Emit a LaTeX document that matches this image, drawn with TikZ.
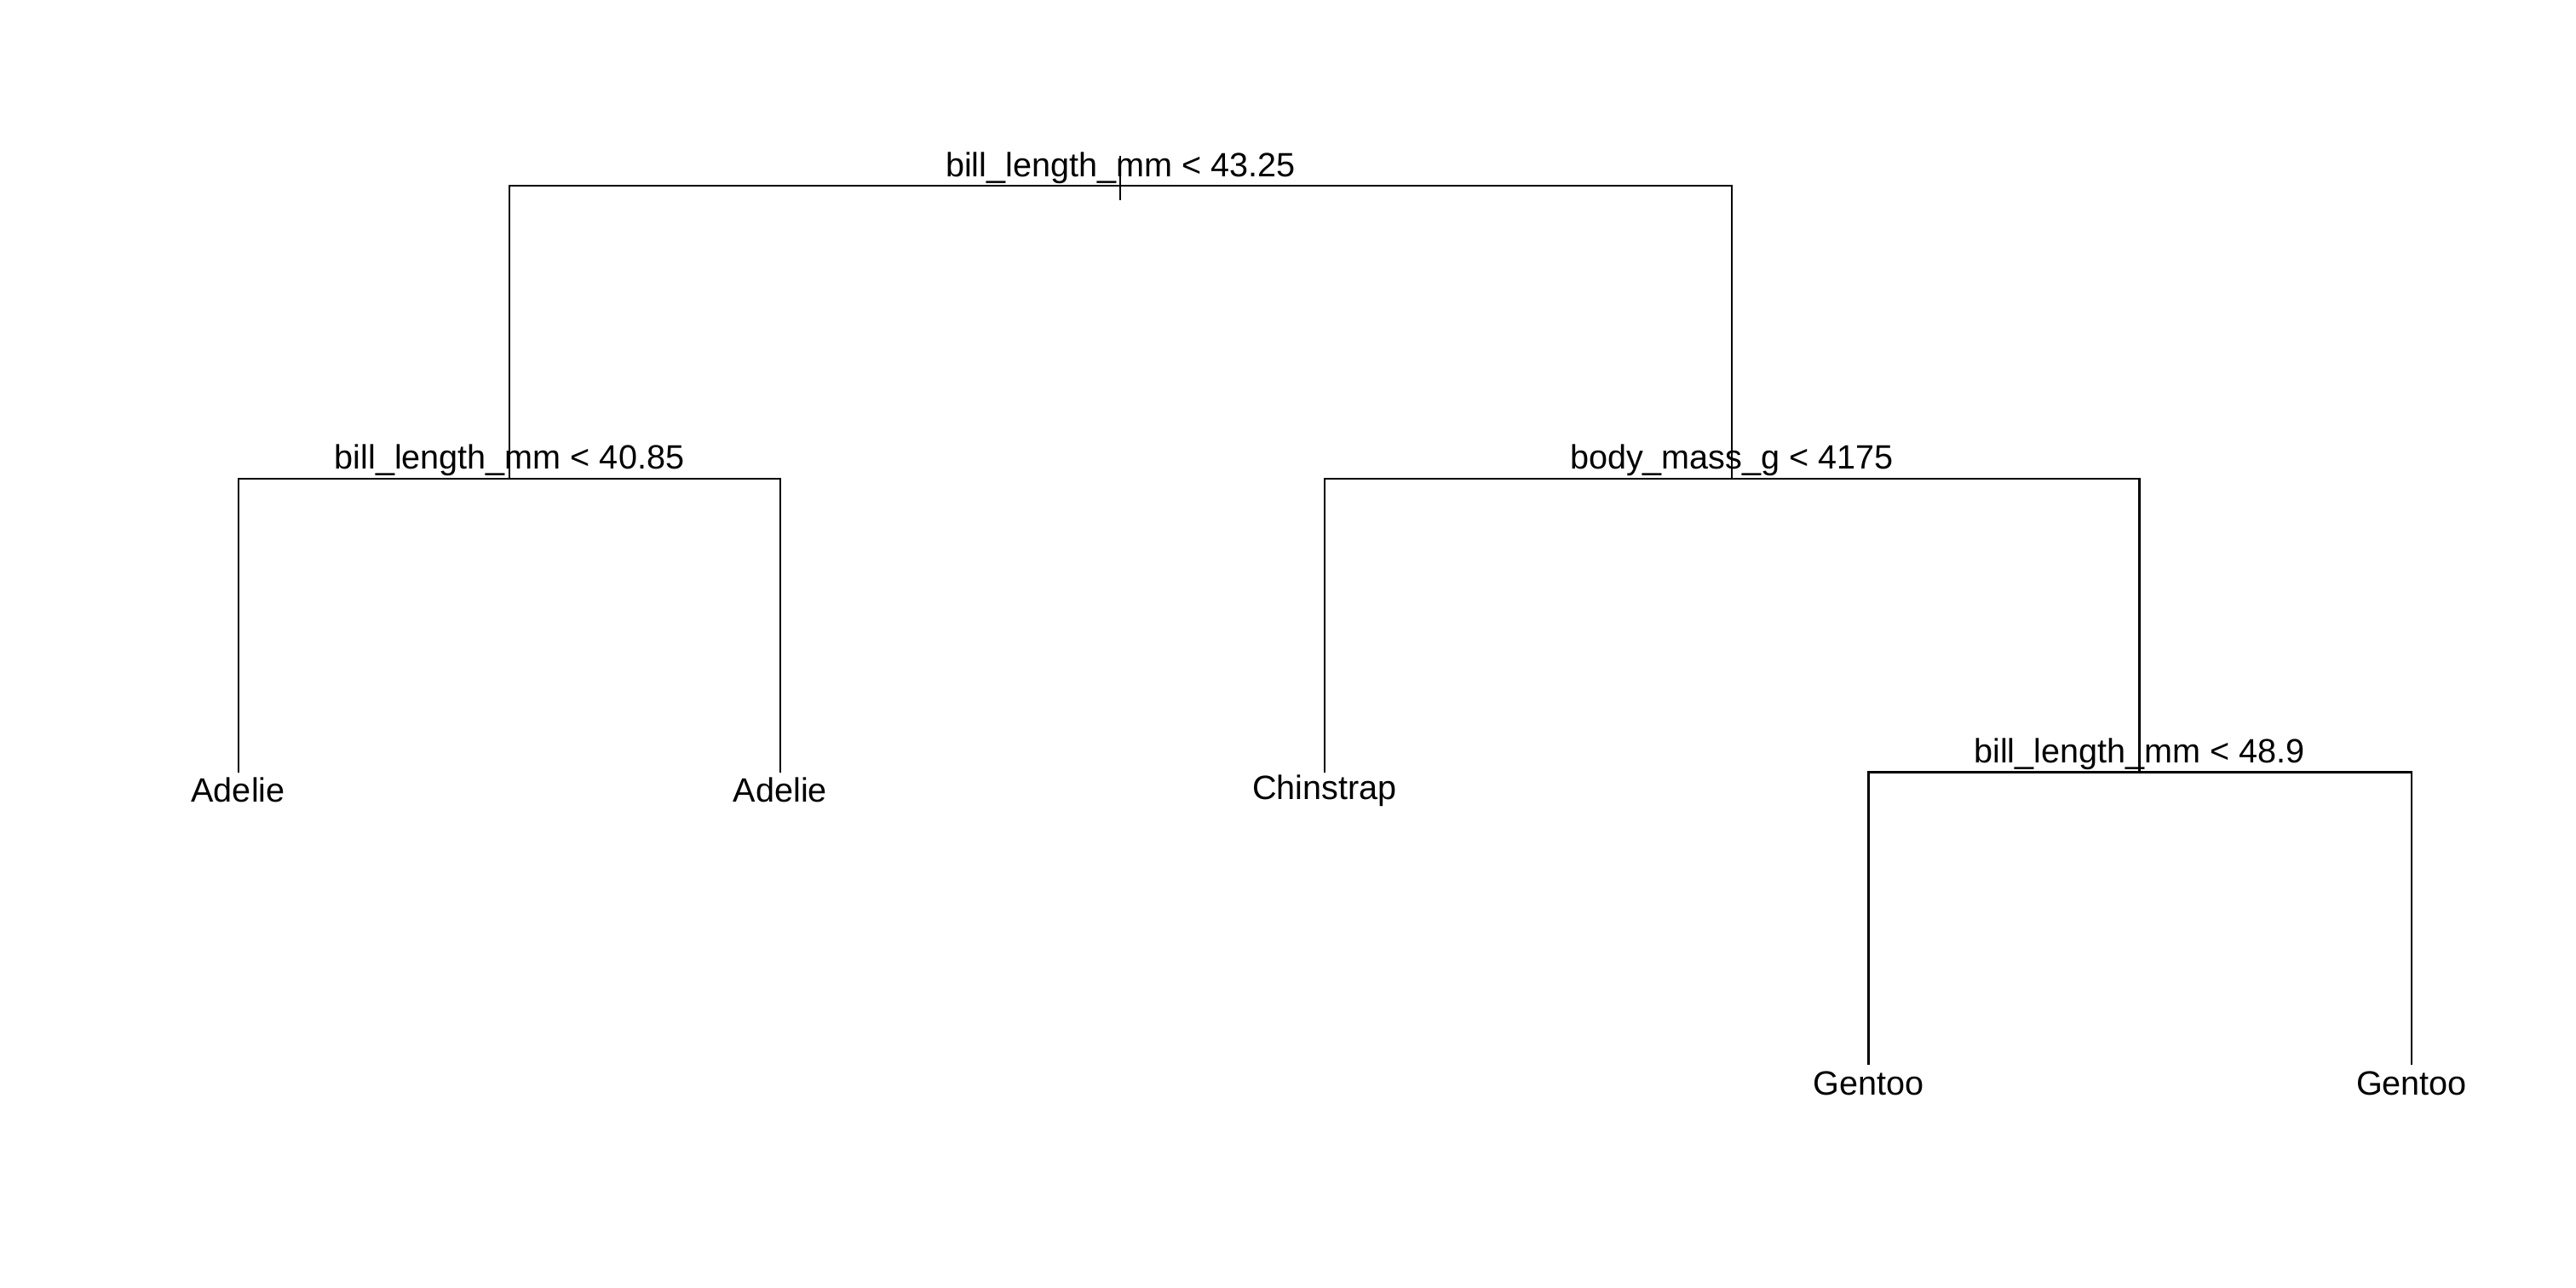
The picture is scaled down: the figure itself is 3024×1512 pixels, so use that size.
\documentclass[tikz,border=0pt]{standalone}
\usepackage{fontspec}
\setmainfont{Liberation Sans}
\begin{document}
\begin{tikzpicture}[x=0.25pt,y=-0.25pt,
  edge/.style={line width=0.55pt, black},
  lbl/.style={anchor=base, inner sep=0pt, font=\fontsize{9.9pt}{11pt}\selectfont}]
\useasboundingbox (0,0) rectangle (3024,1512);
% tree nodes
\coordinate (n1) at (1315.3,218.3);
\coordinate (n2) at (597.9,561.7);
\coordinate (n3) at (2033,561.7);
\coordinate (l1) at (279.6,906.5);
\coordinate (l2) at (916,906.5);
\coordinate (l3) at (1555,906.5);
\coordinate (n4) at (2511.5,906.5);
\coordinate (l4) at (2193.5,1250);
\coordinate (l5) at (2831,1250);
\coordinate (rtA) at (1315.3,183);
\coordinate (rtB) at (1315.3,235);
% connectors
\draw[edge] (rtA) -- (rtB);
\draw[edge] (n2) |- (n1) -| (n3);
\draw[edge] (l1) |- (n2) -| (l2);
\draw[edge] (l3) |- (n3) -| (n4);
\draw[edge] (l4) |- (n4) -| (l5);
% labels
\node[lbl] (t1) at (1315.3,207.3) {bill\_length\_mm < 43.25};
\node[lbl] (t2) at (597.9,550.7) {bill\_length\_mm < 40.85};
\node[lbl] (t3) at (2033,550.7) {body\_mass\_g < 4175};
\node[lbl] (t4) at (2511.5,895.5) {bill\_length\_mm < 48.9};
\node[lbl] (a1) at (279.6,941.7) {Adelie};
\node[lbl] (a2) at (916,941.7) {Adelie};
\node[lbl] (c1) at (1555,938.3) {Chinstrap};
\node[lbl] (g1) at (2193.5,1285) {Gentoo};
\node[lbl] (g2) at (2831,1285) {Gentoo};
\end{tikzpicture}
\end{document}
